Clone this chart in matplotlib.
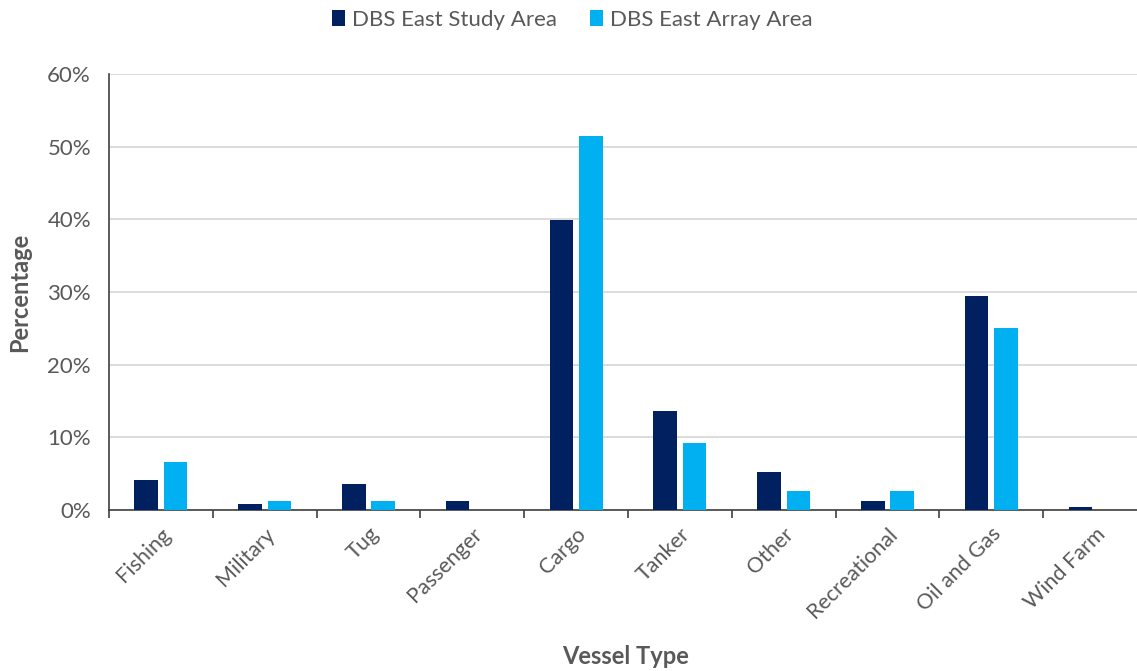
import matplotlib.pyplot as plt
import numpy as np
from matplotlib.ticker import PercentFormatter

# vessel type breakdown (percent of tracks)
vessel_types = ["Fishing", "Military", "Tug", "Passenger", "Cargo", "Tanker",
                "Other", "Recreational", "Oil and Gas", "Wind Farm"]
study_area = [4.1, 0.8, 3.6, 1.3, 39.9, 13.6, 5.2, 1.3, 29.5, 0.45]
array_area = [6.6, 1.3, 1.3, 0.0, 51.4, 9.2, 2.6, 2.6, 25.0, 0.0]

plt.rcParams['font.family'] = ['Lato', 'DejaVu Sans']
txt = '#595959'

fig = plt.figure(figsize=(11.37, 6.71), dpi=100)
ax = fig.add_axes([109/1137, 1 - 510/671, 1038/1137, 436/671])

x = np.arange(len(vessel_types))
w = 0.227
ax.bar(x - 0.142, study_area, w, color='#002060', label='DBS East Study Area', zorder=3)
ax.bar(x + 0.142, array_area, w, color='#00B0F0', label='DBS East Array Area', zorder=3)

ax.set_xlim(-0.5, len(vessel_types) - 0.5)
ax.set_ylim(0, 60)
ax.set_yticks(np.arange(0, 61, 10))
ax.yaxis.set_major_formatter(PercentFormatter(decimals=0))
ax.grid(axis='y', color='#d9d9d9', linewidth=1.3, zorder=0)

ax.set_xticks(x)
ax.set_xticklabels(vessel_types, rotation=45, ha='right', rotation_mode='anchor')
ax.set_xticks(np.arange(-0.5, len(vessel_types), 1), minor=True)
ax.tick_params(axis='x', which='major', length=0, pad=10, labelsize=15.5, labelcolor=txt)
ax.tick_params(axis='x', which='minor', length=6, width=1.2, color='#404040', direction='out')
ax.tick_params(axis='y', length=0, pad=13, labelsize=16, labelcolor=txt)

for s in ['top', 'right']:
    ax.spines[s].set_visible(False)
ax.spines['left'].set_color('#404040')
ax.spines['bottom'].set_color('#404040')
ax.spines['left'].set_linewidth(1.2)
ax.spines['bottom'].set_linewidth(1.2)

fig.text(20/1137, 1 - 292/671, 'Percentage', fontsize=17, fontweight='bold',
         color=txt, ha='center', va='center', rotation=90)
fig.text(626/1137, 1 - 656/671, 'Vessel Type', fontsize=17, fontweight='bold',
         color=txt, ha='center', va='center')

fig.legend(loc='center', bbox_to_anchor=(572/1137, 1 - 20/671), ncol=2, frameon=False,
           fontsize=16, handlelength=0.6, handleheight=0.75, handletextpad=0.3,
           columnspacing=1.5, labelcolor=txt)

fig.savefig('out.png', dpi=100)
